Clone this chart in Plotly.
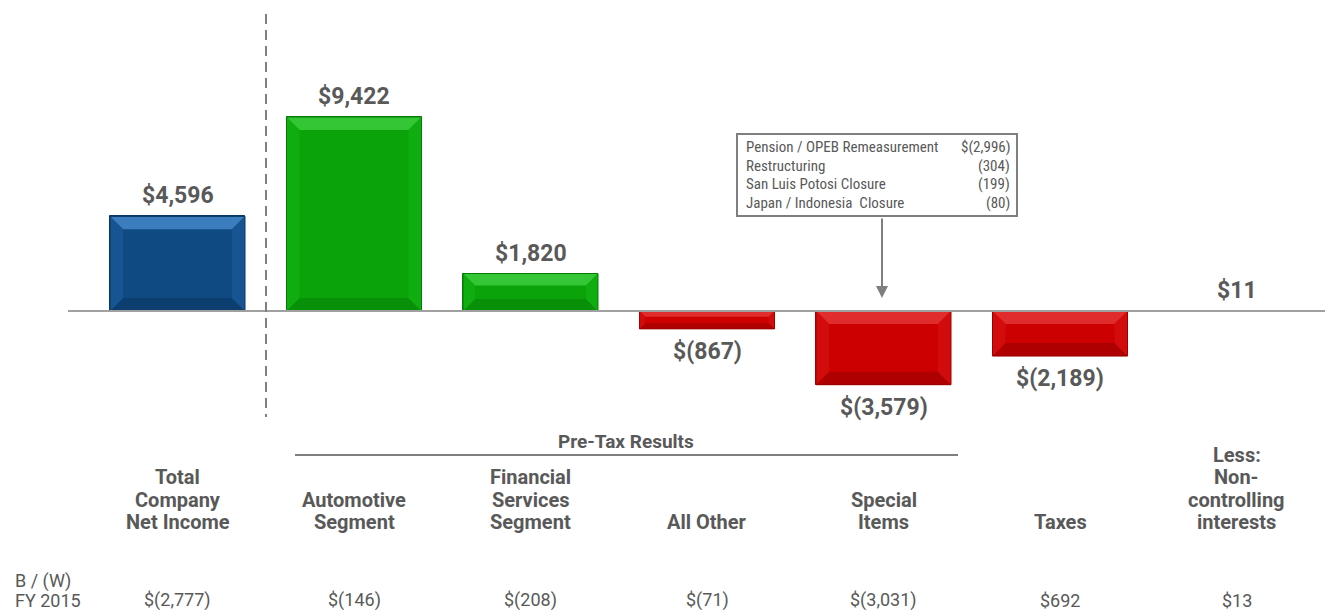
import plotly.graph_objects as go

# ---------------- data ----------------
categories = ["Total\nCompany\nNet Income", "Automotive\nSegment", "Financial\nServices\nSegment",
              "All Other", "Special\nItems", "Taxes", "Less:\nNon-\ncontrolling\ninterests"]
values = [4596, 9422, 1820, -867, -3579, -2189, 11]
bw_fy2015 = [-2777, -146, -208, -71, -3031, 692, 13]
special_items = ["Pension / OPEB Remeasurement", "Restructuring", "San Luis Potosi Closure", "Japan / Indonesia  Closure"]
special_values = ["$(2,996)", "(304)", "(199)", "(80)"]
bar_kind = ["total", "pos", "pos", "neg", "neg", "neg", "pos"]

# ---------------- geometry helpers ----------------
W, H = 1325, 610
X0_PX, DX_PX = 177.5, 176.5          # pixel of category 0, pixels per category
Y0_PX, PX_PER_UNIT = 311.0, 0.02059  # pixel of zero, pixels per $M
XR = [(0 - X0_PX) / DX_PX, (W - X0_PX) / DX_PX]
YR = [-(H - Y0_PX) / PX_PER_UNIT, Y0_PX / PX_PER_UNIT]


def px_x(p):
    return (p - X0_PX) / DX_PX


def py_y(p):
    return (Y0_PX - p) / PX_PER_UNIT


def money(v, dollar=True):
    s = f"{abs(v):,}"
    if v < 0:
        return ("$(" if dollar else "(") + s + ")"
    return ("$" if dollar else "") + s


GRAY = "#595959"
LINE_GRAY = "#7F7F7F"
FONT_B = "Roboto, Liberation Sans, Arial"
NARROW = "Liberation Sans Narrow, Roboto Condensed, Arial Narrow, Roboto"

palette = {
    "total": dict(face="#0F4A83", top="#3C7DBD", side="#165492", bot="#0C3F70", line="#0A3763"),
    "pos": dict(face="#0AA30A", top="#34C634", side="#10AD10", bot="#089008", line="#067C06"),
    "neg": dict(face="#CC0000", top="#E02C2C", side="#D20C0C", bot="#AE0000", line="#9E0000"),
}

BAR_W = 135 / DX_PX

fig = go.Figure()
fig.add_trace(go.Bar(
    x=list(range(len(values))), y=values, width=BAR_W,
    marker=dict(color=[palette[k]["face"] for k in bar_kind],
                line=dict(color=[palette[k]["line"] for k in bar_kind], width=1)),
    hoverinfo="skip", showlegend=False,
))

shapes = []
annotations = []


def path(pts):
    return "M " + " L ".join(f"{px},{py}" for px, py in pts) + " Z"


# bevel overlays derived from bar values
for i, (v, k) in enumerate(zip(values, bar_kind)):
    hpx = abs(v) * PX_PER_UNIT
    if hpx < 4:
        continue
    b = min(13.0, hpx * 0.32)
    bx, by = b / DX_PX, b / PX_PER_UNIT
    x0, x1 = i - BAR_W / 2, i + BAR_W / 2
    top, bot = max(0, v), min(0, v)
    c = palette[k]
    shapes.append(dict(type="path", path=path([(x0, top), (x1, top), (x1 - bx, top - by), (x0 + bx, top - by)]),
                       fillcolor=c["top"], line=dict(width=0), layer="above"))
    shapes.append(dict(type="path", path=path([(x0, bot), (x1, bot), (x1 - bx, bot + by), (x0 + bx, bot + by)]),
                       fillcolor=c["bot"], line=dict(width=0), layer="above"))
    shapes.append(dict(type="path", path=path([(x0, top), (x0 + bx, top - by), (x0 + bx, bot + by), (x0, bot)]),
                       fillcolor=c["side"], line=dict(width=0), layer="above"))
    shapes.append(dict(type="path", path=path([(x1, top), (x1 - bx, top - by), (x1 - bx, bot + by), (x1, bot)]),
                       fillcolor=c["side"], line=dict(width=0), layer="above"))
    shapes.append(dict(type="rect", x0=x0, x1=x1, y0=bot, y1=top, fillcolor="rgba(0,0,0,0)",
                       line=dict(color=c["line"], width=1), layer="above"))

# zero line
shapes.append(dict(type="line", x0=px_x(68), x1=XR[1], y0=0, y1=0, line=dict(color="#A0A0A0", width=2), layer="above"))
# dashed divider
shapes.append(dict(type="line", x0=px_x(266), x1=px_x(266), y0=py_y(14), y1=py_y(417),
                   line=dict(color=LINE_GRAY, width=2, dash="10px,6px")))
# pre-tax bracket line
shapes.append(dict(type="line", x0=px_x(295), x1=px_x(958), y0=py_y(455), y1=py_y(455), line=dict(color=LINE_GRAY, width=2)))
# callout box
shapes.append(dict(type="rect", x0=px_x(737), x1=px_x(1017), y0=py_y(134), y1=py_y(216),
                   line=dict(color=LINE_GRAY, width=2), fillcolor="white"))

# value labels
for i, v in enumerate(values):
    annotations.append(dict(x=i, y=v, text=f"<b>{money(v)}</b>", showarrow=False,
                            yanchor="bottom" if v >= 0 else "top", yshift=5 if v >= 0 else -7,
                            font=dict(family=FONT_B, size=23, color=GRAY)))

# category labels (bottom aligned, per-line spacing)
LINE_SP = 22.4
for i, lab in enumerate(categories):
    lines = lab.split("\n")
    n = len(lines)
    for j, ln in enumerate(lines):
        yc = 522 - (n - 1 - j) * LINE_SP
        annotations.append(dict(x=i, y=py_y(yc), text=f"<b>{ln}</b>", showarrow=False,
                                xanchor="center", yanchor="middle",
                                font=dict(family=FONT_B, size=20, color=GRAY)))

annotations.append(dict(x=px_x(626), y=py_y(441), text="<b>Pre-Tax Results</b>", showarrow=False,
                        font=dict(family=FONT_B, size=19, color=GRAY)))

# B/(W) row
annotations.append(dict(x=px_x(13), y=py_y(581), text="B / (W)", showarrow=False, xanchor="left",
                        font=dict(family=FONT_B, size=18, color=GRAY)))
annotations.append(dict(x=px_x(13), y=py_y(600), text="FY 2015", showarrow=False, xanchor="left",
                        font=dict(family=FONT_B, size=18, color=GRAY)))
for i, v in enumerate(bw_fy2015):
    annotations.append(dict(x=i, y=py_y(600), text=money(v), showarrow=False,
                            font=dict(family=FONT_B, size=18, color=GRAY)))

# callout text
for j, (name, val) in enumerate(zip(special_items, special_values)):
    yc = 147 + j * 18.7
    annotations.append(dict(x=px_x(744), y=py_y(yc), text=name, showarrow=False, xanchor="left",
                            font=dict(family=NARROW, size=15, color=GRAY)))
    annotations.append(dict(x=px_x(1012), y=py_y(yc), text=val, showarrow=False, xanchor="right",
                            font=dict(family=NARROW, size=15, color=GRAY)))

# callout arrow
annotations.append(dict(x=px_x(882), y=py_y(298), ax=px_x(882), ay=py_y(217), axref="x", ayref="y",
                        xref="x", yref="y", text="", showarrow=True, arrowhead=2, arrowsize=1.2,
                        arrowwidth=2, arrowcolor=LINE_GRAY))

fig.update_layout(
    width=W, height=H, margin=dict(l=0, r=0, t=0, b=0),
    paper_bgcolor="white", plot_bgcolor="white",
    xaxis=dict(range=XR, visible=False, fixedrange=True),
    yaxis=dict(range=YR, visible=False, fixedrange=True),
    shapes=shapes, annotations=annotations, showlegend=False, bargap=0,
)

fig.write_html("out.html", config={"displayModeBar": False},
               post_script="document.body.style.margin='0';document.body.style.overflow='hidden';")
